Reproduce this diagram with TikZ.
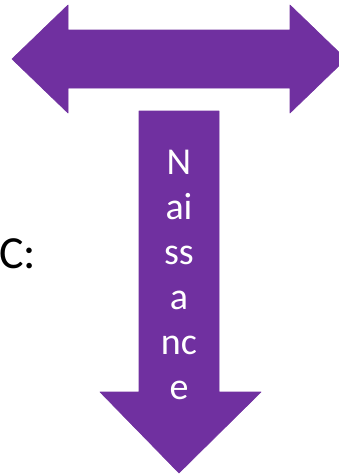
\documentclass[tikz,border=0pt]{standalone}
\usepackage{fontspec}
\setmainfont{Carlito}
\usepackage{tikz}
\definecolor{OfficePurple}{HTML}{7030A0}

\begin{document}
\begin{tikzpicture}[x=1pt,y=-1pt,thick]
                        \useasboundingbox (0,0) rectangle (339,475);
                        \tikzset{arrowbody/.style={fill=OfficePurple,draw=OfficePurple,line join=round,line width=0.6pt},
                                 letters/.style={text=white,font=\fontsize{38}{45}\selectfont,inner sep=0pt,anchor=base}}
                        % double arrow on top
                        \fill[arrowbody] (12,59) -- (68,5) -- (68,30) -- (290,30) -- (290,5) -- (346,59)
                              -- (290,113) -- (290,88) -- (68,88) -- (68,113) -- cycle;
                        % arrow going down
                        \fill[arrowbody] (139,111) -- (219,111) -- (219,392) -- (261,392) -- (179,473)
                              -- (100,392) -- (139,392) -- cycle;
                        \foreach \t [count=\i] in {N,ai,ss,a,nc,e}
                              \node[letters] (birth\i) at (179,{174+45*(\i-1)}) {\t};
                        \node[inner sep=0pt,anchor=base west,font=\fontsize{46}{50}\selectfont] (C) at (-1,268) {C:};
                  \end{tikzpicture}
\end{document}
